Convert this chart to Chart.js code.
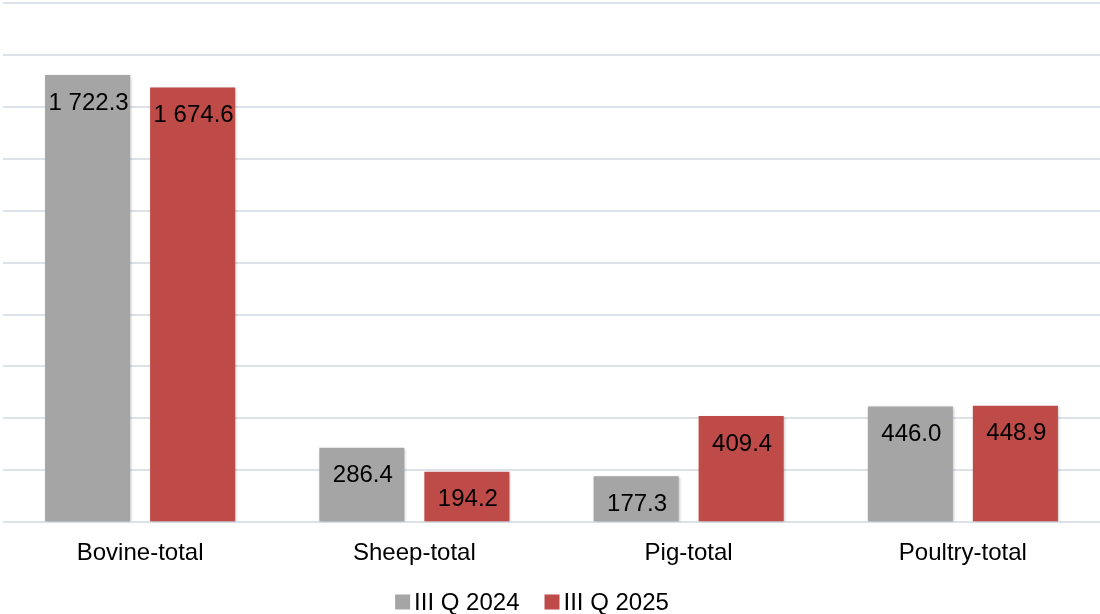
<!DOCTYPE html>
<html>
<head>
<meta charset="utf-8">
<script src="https://cdn.jsdelivr.net/npm/chart.js@4.4.1/dist/chart.umd.min.js"></script>
<style>
  html, body { margin: 0; padding: 0; background: #fff; }
  #wrap { width: 1100px; height: 614px; position: relative; }
</style>
</head>
<body>
<div id="wrap"><canvas id="chart"></canvas></div>
<script>
const categories = ['Bovine-total', 'Sheep-total', 'Pig-total', 'Poultry-total'];
const seriesNames = ['III Q 2024', 'III Q 2025'];
const q2024 = [1722.3, 286.4, 177.3, 446.0];
const q2025 = [1674.6, 194.2, 409.4, 448.9];
const seriesColors = ['#a5a5a5', '#be4b48'];

const FONT = "'Liberation Sans', Arial, sans-serif";
const FONT_SIZE = 24;

// 1722.3 -> "1 722.3"
const fmt = (v) => {
  const [int, dec] = v.toFixed(1).split('.');
  return int.replace(/\B(?=(\d{3})+(?!\d))/g, ' ') + '.' + dec;
};

const barShadow = {
  id: 'barShadow',
  beforeDatasetsDraw(chart) {
    const ctx = chart.ctx;
    ctx.save();
    ctx.shadowColor = 'rgba(0,0,0,0.28)';
    ctx.shadowBlur = 3;
    ctx.shadowOffsetX = 1;
    ctx.shadowOffsetY = 1;
  },
  afterDatasetsDraw(chart) {
    const ctx = chart.ctx;
    ctx.restore();
    // value labels inside the top of each bar
    ctx.save();
    ctx.font = FONT_SIZE + 'px ' + FONT;
    ctx.fillStyle = '#000';
    ctx.textAlign = 'center';
    ctx.textBaseline = 'middle';
    chart.data.datasets.forEach((ds, di) => {
      chart.getDatasetMeta(di).data.forEach((bar, i) => {
        ctx.fillText(fmt(ds.data[i]), bar.x + 1, bar.y + 28);
      });
    });
    ctx.restore();
  },
};

const bottomLegend = {
  id: 'bottomLegend',
  afterDraw(chart) {
    const ctx = chart.ctx;
    const box = 15, gap = 4, itemGap = 25;
    ctx.save();
    ctx.font = FONT_SIZE + 'px ' + FONT;
    ctx.textBaseline = 'middle';
    ctx.textAlign = 'left';
    const items = chart.data.datasets.map((ds) => ({
      text: ds.label,
      color: ds.backgroundColor,
      w: box + gap + ctx.measureText(ds.label).width,
    }));
    const total = items.reduce((s, it) => s + it.w, 0) + itemGap * (items.length - 1);
    let x = chart.width / 2 - 18 - total / 2;
    const y = chart.height - 12;
    items.forEach((it) => {
      ctx.fillStyle = it.color;
      ctx.fillRect(x, y - box / 2, box, box);
      ctx.fillStyle = '#000';
      ctx.fillText(it.text, x + box + gap, y + 1);
      x += it.w + itemGap;
    });
    ctx.restore();
  },
};

new Chart(document.getElementById('chart'), {
  type: 'bar',
  data: {
    labels: categories,
    datasets: [
      { label: seriesNames[0], data: q2024, backgroundColor: seriesColors[0] },
      { label: seriesNames[1], data: q2025, backgroundColor: seriesColors[1] },
    ],
  },
  options: {
    responsive: true,
    maintainAspectRatio: false,
    animation: false,
    layout: { padding: { top: 3, left: 3, right: 0, bottom: 37 } },
    datasets: {
      bar: { categoryPercentage: 0.766, barPercentage: 0.81 },
    },
    plugins: {
      legend: { display: false },
      tooltip: { enabled: false },
    },
    scales: {
      x: {
        grid: { display: false },
        border: { display: false },
        ticks: { color: '#000', padding: 9, font: { family: FONT, size: FONT_SIZE } },
      },
      y: {
        min: 0,
        max: 2000,
        ticks: { display: false, stepSize: 200 },
        border: { display: false },
        grid: { color: '#dde1e8', lineWidth: 2, drawTicks: false },
      },
    },
  },
  plugins: [barShadow, bottomLegend],
});
</script>
</body>
</html>
